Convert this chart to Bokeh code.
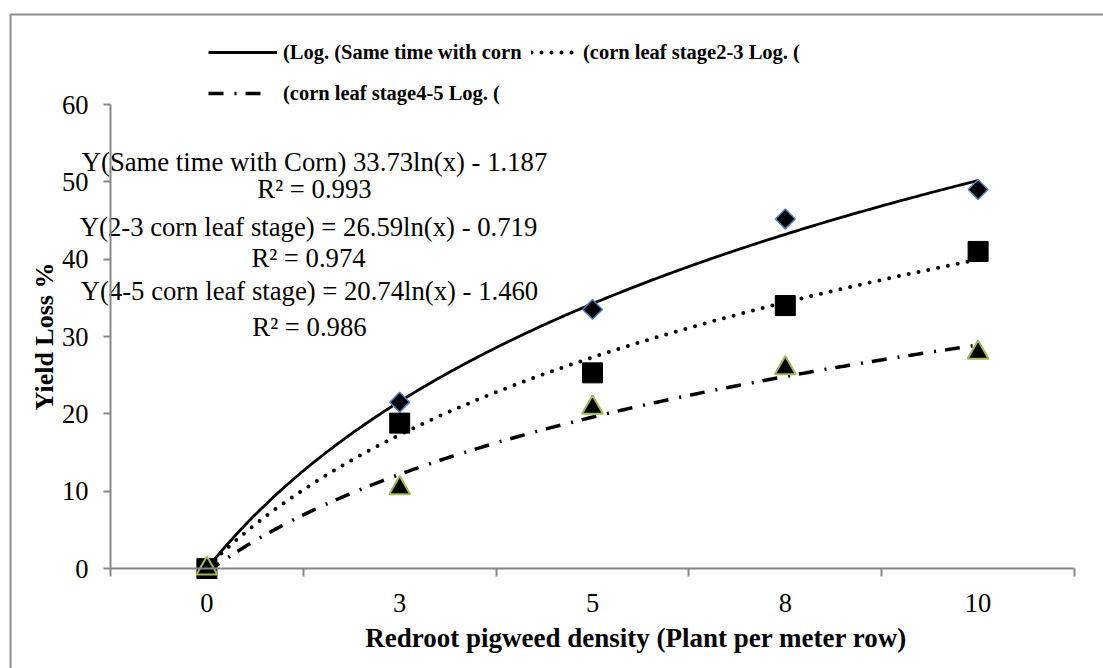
import numpy as np
from bokeh.plotting import figure
from bokeh.models import Range1d, FixedTicker, Legend, LegendItem, Label
from bokeh.core.properties import value
from bokeh.embed import file_html
from bokeh.resources import INLINE

# ---- data ----
density_labels = ["0", "3", "5", "8", "10"]
same_time = [0.0, 21.5, 33.5, 45.2, 49.0]
stage_2_3 = [0.0, 18.8, 25.3, 34.0, 41.0]
stage_4_5 = [0.0, 10.4, 20.8, 25.9, 27.9]

legend_labels = ["(Log. (Same time with corn",
                 "(corn leaf stage2-3 Log. (",
                 "(corn leaf stage4-5 Log. ("]
equation_lines = ["Y(Same time with Corn) 33.73ln(x) - 1.187",
                  "R\u00b2 = 0.993",
                  "Y(2-3 corn leaf stage) = 26.59ln(x) - 0.719",
                  "R\u00b2 = 0.974",
                  "Y(4-5 corn leaf stage) = 20.74ln(x) - 1.460",
                  "R\u00b2 = 0.986"]
x_title = "Redroot pigweed  density (Plant per meter row)"
y_title = "Yield Loss %"
y_ticks = [0, 10, 20, 30, 40, 50, 60]
y_max = 60

SERIF = "Liberation Serif"
GRAY = "#878787"

# ---- layout geometry (pixels) ----
W, H = 1103, 668
AX_LEFT, AX_RIGHT, AX_TOP, AX_BOTTOM = 110, 1074, 104, 568   # plot area inside the canvas
n = len(density_labels)
px_per_cat = (AX_RIGHT - AX_LEFT) / n
px_per_y = (AX_BOTTOM - AX_TOP) / y_max
x0 = 0.5 - AX_LEFT / px_per_cat
x1 = x0 + W / px_per_cat
y1 = AX_BOTTOM / px_per_y
y0 = y1 - H / px_per_y

idx = np.arange(1, n + 1)

p = figure(width=W, height=H, output_backend="svg", toolbar_location=None,
           x_range=Range1d(x0, x1), y_range=Range1d(y0, y1), min_border=0)
p.outline_line_color = None
p.xgrid.visible = False
p.ygrid.visible = False
p.background_fill_color = "white"
p.border_fill_color = "white"

# outer chart-area border (left and top edges; the others fall outside the picture)
bx = x0 + 10 / px_per_cat
by = y1 - 14 / px_per_y
p.segment(x0=[bx, bx], y0=[by, by], x1=[bx, x1 + 1], y1=[y0 - 5, by],
          line_color="#8c8c8c", line_width=2)

# axes
xa = p.xaxis[0]
xa.fixed_location = 0
xa.bounds = (0.5, n + 0.5)
xa.ticker = FixedTicker(ticks=list(idx), minor_ticks=list(np.arange(0.5, n + 1, 1.0)))
xa.major_label_overrides = {int(i): lab for i, lab in zip(idx, density_labels)}
xa.major_tick_out = 0
xa.major_tick_in = 0
xa.minor_tick_out = 8
xa.minor_tick_in = 0
xa.minor_tick_line_color = GRAY
xa.minor_tick_line_width = 2
xa.axis_line_color = GRAY
xa.axis_line_width = 2
xa.major_label_text_font = SERIF
xa.major_label_text_font_size = "26.5px"
xa.major_label_text_color = "black"
xa.major_label_standoff = 17

ya = p.yaxis[0]
ya.fixed_location = 0.5
ya.bounds = (0, y_max)
ya.ticker = FixedTicker(ticks=y_ticks)
ya.minor_tick_out = 0
ya.minor_tick_in = 0
ya.major_tick_out = 7
ya.major_tick_in = 0
ya.major_tick_line_color = GRAY
ya.major_tick_line_width = 2
ya.axis_line_color = GRAY
ya.axis_line_width = 2
ya.major_label_text_font = SERIF
ya.major_label_text_font_size = "26.5px"
ya.major_label_text_color = "black"
ya.major_label_standoff = 15
ya.axis_label = y_title
ya.axis_label_text_font = SERIF
ya.axis_label_text_font_size = "26px"
ya.axis_label_text_font_style = "bold"
ya.axis_label_text_color = "black"
ya.axis_label_standoff = 0

# x-axis title (sits right of centre, as in the reference)
p.add_layout(Label(x=3.244, y=-9.0, text=x_title, text_font=SERIF, text_font_size="27px",
                   text_font_style="bold", text_color="black",
                   text_align="center", text_baseline="middle"))

# logarithmic trendlines fitted to the data
xs = np.linspace(1, n, 300)
def trend(vals):
    a, b = np.polyfit(np.log(idx), np.array(vals), 1)
    return a * np.log(xs) + b

r1 = p.line(xs, trend(same_time), line_color="black", line_width=2.8)
r2 = p.line(xs, trend(stage_2_3), line_color="black", line_width=4,
            line_dash="0 10", line_cap="round")
r3 = p.line(xs, trend(stage_4_5), line_color="black", line_width=3.5,
            line_dash="15 11 2 9")

# data markers
p.scatter(idx, same_time, marker="square", angle=np.pi / 4, size=14,
          fill_color="black", line_color="#4f81bd", line_width=1.5)
p.scatter(idx, stage_2_3, marker="square", size=20,
          fill_color="black", line_color="black", line_width=1)
p.scatter(idx, stage_4_5, marker="triangle", size=21,
          fill_color="black", line_color="#9bbb59", line_width=2)

# trendline equations
p.text(x=[1.558, 1.558, 1.527, 1.527, 1.532, 1.532],
       y=[52.6, 49.1, 44.2, 40.2, 35.9, 31.2],
       text=equation_lines, text_font=value(SERIF), text_font_size="26.7px",
       text_color="black", text_align="center", text_baseline="middle")

# legend entries, placed like the reference (two on the first row, one on the second)
def add_legend(label, renderer, loc, glyph_w, standoff):
    lg = Legend(items=[LegendItem(label=label, renderers=[renderer])],
                location=loc, orientation="horizontal",
                label_text_font=SERIF, label_text_font_size="20.5px",
                label_text_font_style="bold", label_text_color="black",
                glyph_width=glyph_w, glyph_height=24, label_height=24,
                label_standoff=standoff, spacing=0, padding=0, margin=0,
                background_fill_alpha=0, border_line_color=None)
    p.add_layout(lg, "center")

add_legend(legend_labels[0], r1, (208, H - 64), 69, 6)
add_legend(legend_labels[1], r2, (531, H - 64), 44, 8)
add_legend(legend_labels[2], r3, (208, H - 105), 57, 18)

open("out.html", "w").write(file_html(p, INLINE))
